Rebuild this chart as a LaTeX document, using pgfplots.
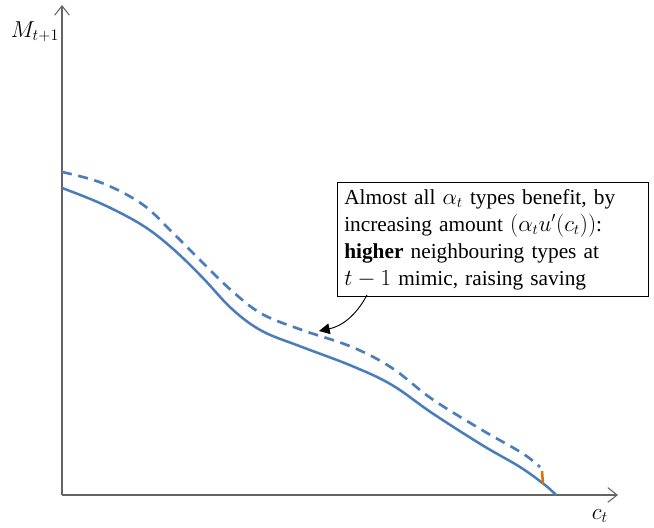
\documentclass[border=0pt]{standalone}
\usepackage{pgfplots}
\pgfplotsset{compat=1.18}
\usepackage{fontspec}
\setmainfont{Liberation Serif}
\usetikzlibrary{arrows.meta}
\definecolor{cblue}{RGB}{74,126,187}
\definecolor{corange}{RGB}{228,108,10}
\definecolor{axgray}{RGB}{100,100,100}
\begin{document}
\begin{tikzpicture}
\begin{axis}[
  scale only axis,
  width=417pt, height=367.5pt,
  xmin=0, xmax=556, ymin=0, ymax=490,
  axis lines=left,
  axis line style={axgray, line width=0.8pt, -{Straight Barb[length=7pt,width=11pt]}},
  xtick=\empty, ytick=\empty,
  clip=false,
]
\path (axis cs:-62,-31) rectangle (axis cs:592,495);
% solid curve (data: x = px-62, y = 495-py)
\addplot[cblue, line width=1.9pt, smooth, tension=0.6] coordinates {
(0,307) (40,291) (80,270) (110,247) (140,218) (170,186) (200,164) (240,148)
(290,129) (330,110) (370,82) (420,50) (458,28) (483,10) (494,0)
};
% dashed curve
\addplot[cblue, line width=2pt, smooth, tension=0.6, dash pattern=on 7.5pt off 5pt] coordinates {
(0,323) (40,312) (80,291) (110,263) (140,233) (170,204) (200,181) (240,165)
(290,148) (330,127) (370,96) (420,65) (460,42) (478,28)
};
% orange segment
\addplot[corange, line width=1.9pt] coordinates {(480,24) (481,11)};
% labels
\node[font=\fontsize{18}{20}\selectfont] at (axis cs:-27,463) {$M_{t+1}$};
\node[font=\fontsize{18}{20}\selectfont] at (axis cs:538,-21) {$c_t$};
% annotation box
\node[draw=black, line width=0.9pt, anchor=north west, align=left, inner sep=5pt,
      font=\fontsize{16}{20.25}\selectfont, text width=223pt]
  at (axis cs:275,313) {Almost all $\alpha_t$ types benefit, by\\
increasing amount $(\alpha_t u'(c_t))$:\\
\textbf{higher} neighbouring types at\\
$t-1$ mimic, raising saving};
\draw[black, line width=0.7pt, -{Triangle[length=8pt,width=8pt]}] (axis cs:305,200) to[bend left=25] (axis cs:257,164);
\end{axis}
\end{tikzpicture}
\end{document}
